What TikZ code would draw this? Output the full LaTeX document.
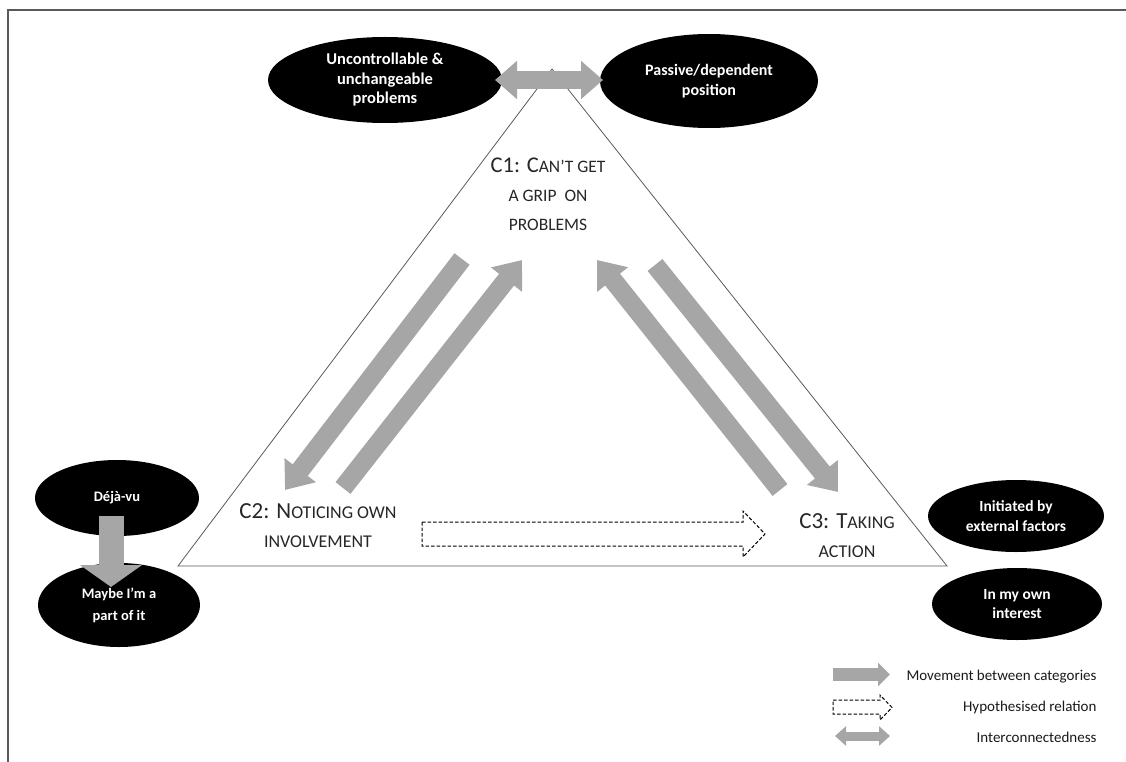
\documentclass[tikz,border=0pt]{standalone}
\usepackage{fontspec}
\setmainfont{Carlito}
\usetikzlibrary{shapes.geometric,arrows.meta}

\definecolor{movegrey}{HTML}{A6A6A6}
\definecolor{framegrey}{HTML}{595959}
\newcommand{\smc}[1]{{\fontsize{17.5}{29}\selectfont #1}}
\newcommand{\smcb}[1]{{\fontsize{18}{29}\selectfont #1}}

\begin{document}
\begin{tikzpicture}[x=1pt,y=-1pt,
    blob/.style={ellipse,fill=black,text=white,inner sep=0pt,align=center,
      font=\bfseries\fontsize{15.5}{19.5}\selectfont},
    cat/.style={align=center,text=black!85,font=\fontsize{22.5}{29}\selectfont},
    catbig/.style={cat,font=\fontsize{23}{29}\selectfont},
    move/.style={line width=19pt,movegrey,-{Triangle[width=38pt,length=25pt]}},
    link/.style={line width=18pt,movegrey,{Triangle[width=37pt,length=22pt]}-{Triangle[width=37pt,length=22pt]}},
    hypo/.style={dash pattern=on 3.5pt off 2pt,line width=1pt,black},
    legendtext/.style={anchor=east,text=black!90,font=\fontsize{15}{17}\selectfont}]
    \useasboundingbox (0,0) rectangle (1126,762);
    \draw[line width=2pt,framegrey] (8,762) -- (8,10) -- (1126,10);

    % triangle of the three categories
    \coordinate (T1) at (552,69);
    \coordinate (T2) at (178,566);
    \coordinate (T3) at (947,566);
    \draw[line width=0.8pt,framegrey] (T1) -- (T2) -- (T3) -- cycle;

    \node[cat] (C1) at (548,194) {C1: C\smc{AN’T GET}\\ \smc{A GRIP\ \ ON}\\ \smc{PROBLEMS}};
    \node[catbig] (C2) at (318,526) {C2: N\smcb{OTICING OWN}\\ \smcb{INVOLVEMENT}};
    \node[catbig] (C3) at (847,536) {C3: T\smcb{AKING}\\ \smcb{ACTION}};

    % ellipses
    \node[blob,font=\bfseries\fontsize{16.5}{19.5}\selectfont,minimum width=234pt,minimum height=86pt] (uncontr) at (385,80) {Uncontrollable \&\\ unchangeable\\ problems};
    \node[blob,font=\bfseries\fontsize{16}{20}\selectfont,minimum width=218pt,minimum height=94pt] (passive) at (709,81) {Passive/dependent\\ position};
    \node[blob,font=\bfseries\fontsize{14.5}{21}\selectfont,minimum width=164pt,minimum height=76pt] (deja) at (117,498) {Déjà-vu};
    \node[blob,font=\bfseries\fontsize{14.5}{22}\selectfont,minimum width=162pt,minimum height=84pt] (maybe) at (119,605) {Maybe I’m a\\ part of it};
    \node[blob,minimum width=176pt,minimum height=72pt] (initiated) at (1016,516) {Initiated by\\ external factors};
    \node[blob,minimum width=170pt,minimum height=72pt] (interest) at (1017,604) {In my own\\ interest};

    % interconnectedness
    \coordinate (L1) at (495,80);
    \coordinate (L2) at (603,80);
    \draw[link] (L1) -- (L2);

    \coordinate (D1) at (111,516);
    \coordinate (D2) at (111,587);
    \draw[line width=25pt,movegrey,-{Triangle[width=61pt,length=22pt]}] (D1) -- (D2);

    % movement between categories
    \coordinate (A1) at (462,259);
    \coordinate (A2) at (285,490);
    \coordinate (B1) at (343,488);
    \coordinate (B2) at (522,260);
    \coordinate (E1) at (780,490);
    \coordinate (E2) at (597,260);
    \coordinate (F1) at (655,265);
    \coordinate (F2) at (838,492);
    \draw[move] (A1) -- (A2);
    \draw[move] (B1) -- (B2);
    \draw[move] (E1) -- (E2);
    \draw[move] (F1) -- (F2);

    % hypothesised relation
    \draw[hypo] (422,522) -- (743,522) -- (743,511) -- (765,534) -- (743,557) -- (743,546) -- (422,546) -- cycle;

    % legend
    \coordinate (M1) at (833,674.5);
    \coordinate (M2) at (890,674.5);
    \draw[line width=13pt,movegrey,-{Triangle[width=23pt,length=12pt]}] (M1) -- (M2);
    \node[legendtext] (move) at (1100,677) {Movement between categories};

    \draw[hypo] (833,700) -- (880,700) -- (880,695) -- (892,707.5) -- (880,720) -- (880,714) -- (833,714) -- cycle;
    \node[legendtext] (hyp) at (1100,707) {Hypothesised relation};

    \coordinate (I1) at (835,736);
    \coordinate (I2) at (890,736);
    \draw[line width=9pt,movegrey,{Triangle[width=19pt,length=11pt]}-{Triangle[width=19pt,length=11pt]}] (I1) -- (I2);
    \node[legendtext] (inter) at (1100,737) {Interconnectedness};
\end{tikzpicture}
\end{document}
